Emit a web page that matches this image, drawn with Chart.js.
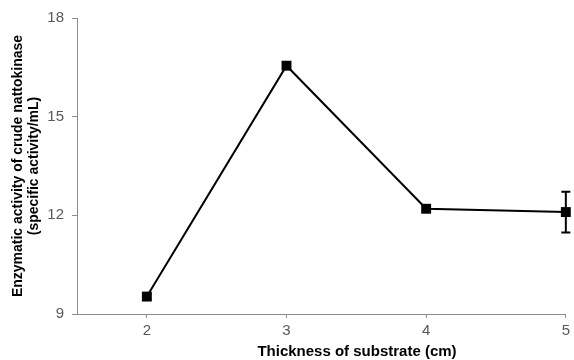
<!DOCTYPE html>
<html>
<head>
<meta charset="utf-8">
<script src="https://cdn.jsdelivr.net/npm/chart.js@4"></script>
<style>
  html, body { margin: 0; padding: 0; background: #fff; }
  #wrap { width: 574px; height: 360px; }
</style>
</head>
<body>
<div id="wrap"><canvas id="lineChart"></canvas></div>
<script>
  // thickness of substrate (cm) and measured activity
  const thickness = [2, 3, 4, 5];
  const activity = [9.53, 16.55, 12.2, 12.1];
  const activityErr = [0.08, 0.1, 0.1, 0.62];
  const yTicks = [9, 12, 15, 18];

  const black = '#000000';
  const axisGray = '#8c8c8c';
  const labelGray = '#595959';
  const fontFamily = '"Liberation Sans", Arial, sans-serif';

  // error bars drawn on top of the line, in data units
  const errorBars = {
    id: 'errorBars',
    afterDatasetsDraw(chart) {
      const { ctx, scales: { x, y } } = chart;
      ctx.save();
      ctx.strokeStyle = black;
      ctx.lineWidth = 2;
      thickness.forEach((t, i) => {
        const px = x.getPixelForValue(t);
        const top = y.getPixelForValue(activity[i] + activityErr[i]);
        const bot = y.getPixelForValue(activity[i] - activityErr[i]);
        ctx.beginPath();
        ctx.moveTo(px, top); ctx.lineTo(px, bot);
        ctx.moveTo(px - 4.5, top); ctx.lineTo(px + 4.5, top);
        ctx.moveTo(px - 4.5, bot); ctx.lineTo(px + 4.5, bot);
        ctx.stroke();
      });
      ctx.restore();
    }
  };

  // x axis title sits a bit right of the plot centre
  const xTitle = {
    id: 'xTitle',
    afterDraw(chart) {
      const { ctx, chartArea } = chart;
      ctx.save();
      ctx.font = 'bold 15px ' + fontFamily;
      ctx.fillStyle = black;
      ctx.textAlign = 'center';
      ctx.textBaseline = 'middle';
      ctx.fillText('Thickness of substrate (cm)', chartArea.left + 280, chartArea.bottom + 38);
      ctx.restore();
    }
  };

  const ctx = document.getElementById('lineChart').getContext('2d');
  new Chart(ctx, {
    type: 'line',
    data: {
      datasets: [{
        data: thickness.map((t, i) => ({ x: t, y: activity[i] })),
        borderColor: black,
        borderWidth: 2,
        pointStyle: 'rect',
        pointRadius: 7,
        pointBackgroundColor: black,
        pointBorderColor: black,
        pointBorderWidth: 0,
        tension: 0,
        clip: false
      }]
    },
    options: {
      responsive: true,
      maintainAspectRatio: false,
      animation: false,
      layout: { padding: { top: 18, right: 4, left: 0, bottom: 0 } },
      plugins: {
        legend: { display: false },
        tooltip: { enabled: false }
      },
      scales: {
        x: {
          type: 'linear',
          min: 1.5,
          max: 5,
          afterFit(scale) { scale.height = 46; },
          afterBuildTicks(scale) {
            scale.ticks = thickness.map(v => ({ value: v }));
          },
          border: { color: axisGray, width: 1 },
          grid: { drawOnChartArea: false, color: axisGray, tickLength: 4 },
          ticks: {
            color: labelGray,
            padding: 4,
            font: { family: fontFamily, size: 15 }
          }
        },
        y: {
          min: 9,
          max: 18,
          afterFit(scale) { scale.width = 77; },
          afterBuildTicks(scale) {
            scale.ticks = yTicks.map(v => ({ value: v }));
          },
          border: { color: axisGray, width: 1 },
          grid: { drawOnChartArea: false, color: axisGray, tickLength: 5 },
          ticks: {
            color: labelGray,
            padding: 8,
            font: { family: fontFamily, size: 15 }
          },
          title: {
            display: true,
            text: ['Enzymatic activity of crude nattokinase', '(specific activity/mL)'],
            color: black,
            padding: { top: 10, bottom: 0 },
            font: { family: fontFamily, size: 14, weight: 'bold', lineHeight: 1.15 }
          }
        }
      }
    },
    plugins: [errorBars, xTitle]
  });
</script>
</body>
</html>
